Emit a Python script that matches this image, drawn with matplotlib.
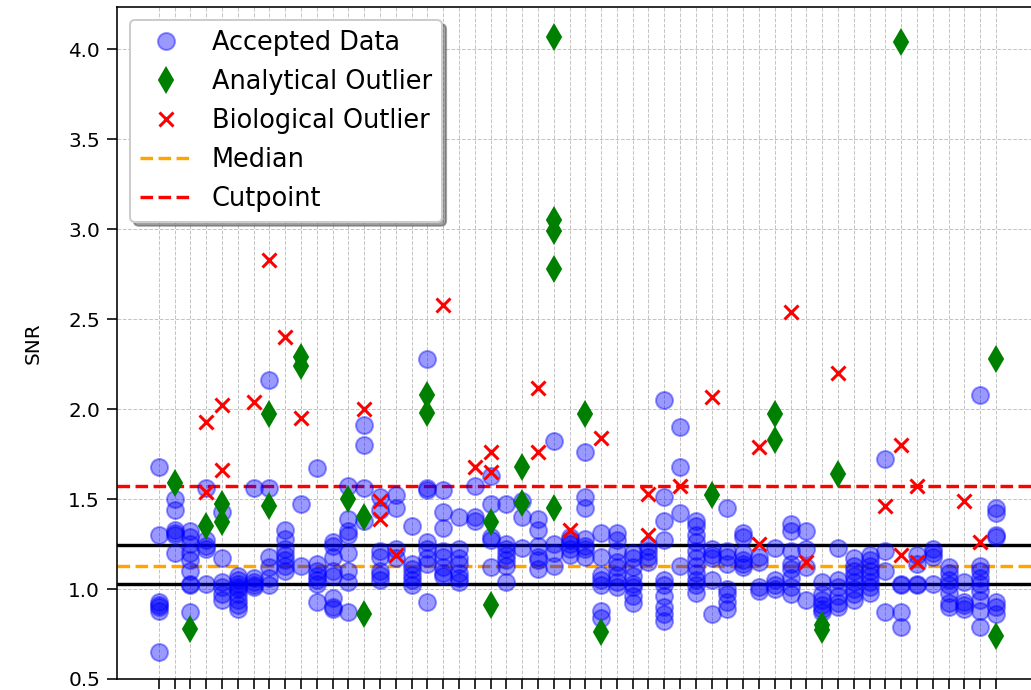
import numpy as np
import matplotlib
matplotlib.use('Agg')
import matplotlib.pyplot as plt
from matplotlib.lines import Line2D

# accepted SNR values, one list per sample (x position = index)
accepted = [
    [1.68, 1.30, 0.93, 0.91, 0.90, 0.88, 0.65],
    [1.50, 1.44, 1.33, 1.31, 1.30, 1.20],
    [1.32, 1.29, 1.25, 1.20, 1.16, 1.10, 1.03, 1.02, 0.87],
    [1.56, 1.27, 1.24, 1.22, 1.03],
    [1.43, 1.17, 1.04, 1.01, 0.97, 0.94],
    [1.07, 1.05, 1.03, 1.01, 1.00, 0.97, 0.94, 0.91, 0.89],
    [1.56, 1.06, 1.04, 1.02, 1.01],
    [2.16, 1.56, 1.18, 1.12, 1.06, 1.02],
    [1.33, 1.28, 1.22, 1.19, 1.16, 1.13, 1.10],
    [1.47, 1.13],
    [1.67, 1.14, 1.10, 1.07, 1.05, 1.03, 0.93],
    [1.26, 1.24, 1.18, 1.10, 1.07, 0.95, 0.90, 0.89],
    [1.57, 1.39, 1.32, 1.30, 1.20, 1.10, 1.04, 0.87],
    [1.91, 1.80, 1.56, 1.38],
    [1.51, 1.44, 1.21, 1.18, 1.10, 1.08, 1.05],
    [1.52, 1.45, 1.22, 1.17],
    [1.35, 1.14, 1.11, 1.08, 1.05, 1.02],
    [2.28, 1.56, 1.55, 1.26, 1.22, 1.17, 1.14, 0.93],
    [1.55, 1.43, 1.34, 1.21, 1.18, 1.12, 1.09, 1.07],
    [1.40, 1.22, 1.17, 1.14, 1.09, 1.06, 1.04],
    [1.57, 1.40, 1.38],
    [1.63, 1.47, 1.29, 1.27, 1.12],
    [1.47, 1.25, 1.22, 1.19, 1.16, 1.13, 1.04],
    [1.49, 1.40, 1.23],
    [1.39, 1.33, 1.24, 1.18, 1.16, 1.11],
    [1.82, 1.25, 1.20, 1.13],
    [1.29, 1.27, 1.25, 1.22, 1.19],
    [1.76, 1.51, 1.45, 1.28, 1.24, 1.22, 1.18],
    [1.31, 1.18, 1.08, 1.05, 1.02, 0.88, 0.84],
    [1.31, 1.27, 1.21, 1.15, 1.12, 1.08, 1.04, 1.01],
    [1.20, 1.17, 1.12, 1.07, 1.03, 1.01, 0.96, 0.92],
    [1.24, 1.21, 1.18, 1.15],
    [2.05, 1.51, 1.38, 1.27, 1.05, 1.02, 0.96, 0.90, 0.86, 0.82],
    [1.90, 1.68, 1.42, 1.13],
    [1.38, 1.35, 1.30, 1.26, 1.21, 1.17, 1.13, 1.09, 1.05, 1.02, 0.98],
    [1.22, 1.19, 1.17, 1.05, 0.86],
    [1.45, 1.21, 1.18, 1.14, 1.00, 0.97, 0.93, 0.89],
    [1.31, 1.29, 1.20, 1.16, 1.14, 1.12],
    [1.18, 1.15, 1.01, 0.99],
    [1.23, 1.05, 1.02, 1.00],
    [1.36, 1.32, 1.21, 1.14, 1.11, 1.06, 1.01, 0.97],
    [1.32, 1.22, 1.12, 0.94],
    [1.04, 0.97, 0.94, 0.91, 0.89, 0.87],
    [1.23, 1.05, 1.01, 0.96, 0.92, 0.90],
    [1.17, 1.13, 1.10, 1.07, 1.04, 1.00, 0.97, 0.94],
    [1.19, 1.16, 1.13, 1.10, 1.07, 1.04, 1.01, 0.98],
    [1.72, 1.21, 1.10, 0.87],
    [1.03, 1.02, 0.87, 0.79],
    [1.19, 1.14, 1.03, 1.02],
    [1.22, 1.20, 1.18, 1.03],
    [1.12, 1.09, 1.05, 1.02, 0.98, 0.92, 0.90],
    [1.04, 0.93, 0.91, 0.89],
    [2.08, 1.13, 1.10, 1.06, 1.03, 0.99, 0.94, 0.88, 0.79],
    [1.45, 1.42, 1.30, 1.29, 0.93, 0.90, 0.86],
]

# outliers: sample index -> SNR values
analytical = {
    1: [1.59], 2: [0.78], 3: [1.35], 4: [1.47, 1.37], 7: [1.97, 1.46],
    9: [2.29, 2.24], 12: [1.50], 13: [1.40, 0.86], 17: [2.08, 1.98],
    21: [1.37, 0.91], 23: [1.68, 1.48], 25: [4.07, 3.05, 2.99, 2.78, 1.45],
    27: [1.97], 28: [0.76], 35: [1.52], 39: [1.97, 1.83], 42: [0.80, 0.77],
    43: [1.64], 47: [4.04], 53: [2.28, 0.74],
}
biological = {
    3: [1.93, 1.54], 4: [2.02, 1.66], 6: [2.04], 7: [2.83], 8: [2.40],
    9: [1.95], 13: [2.00], 14: [1.49, 1.39], 15: [1.19], 18: [2.58],
    20: [1.68], 21: [1.76, 1.65], 24: [2.12, 1.76], 26: [1.33], 28: [1.84],
    31: [1.53, 1.30], 33: [1.57], 35: [2.07], 38: [1.79, 1.25], 40: [2.54],
    41: [1.15], 43: [2.20], 46: [1.46], 47: [1.80, 1.19], 48: [1.57, 1.15],
    51: [1.49], 52: [1.26],
}

median = 1.13
cutpoint = 1.575
band_low = 1.03
band_high = 1.242


def flatten(groups):
    xs, ys = [], []
    for i, vals in groups:
        xs += [i] * len(vals)
        ys += list(vals)
    return xs, ys


n = len(accepted)
ax_x, ax_y = flatten(enumerate(accepted))
an_x, an_y = flatten(analytical.items())
bi_x, bi_y = flatten(biological.items())

fig = plt.figure(figsize=(1031 / 144, 690 / 144), dpi=144)
ax = fig.add_axes([117 / 1031, 11 / 690, 920.8 / 1031, 671.7 / 690])

ax.axhline(band_high, color='black', lw=1.7)
ax.axhline(band_low, color='black', lw=1.7)
ax.axhline(median, color='orange', ls='--', lw=1.7)
ax.axhline(cutpoint, color='red', ls='--', lw=1.7)

ax.plot(ax_x, ax_y, 'o', color='blue', alpha=0.4, ms=8.5, ls='none')
ax.plot(an_x, an_y, 'd', color='green', ms=8.5, ls='none')
ax.plot(bi_x, bi_y, 'x', color='red', ms=7, mew=1.5, ls='none')

ax.set_xticks(range(n))
ax.set_xlim(-0.05 * (n - 1), (n - 1) * 1.05)
ax.set_ylim(0.5, 4.233)
ax.tick_params(axis='x', labelbottom=False, length=5)
ax.tick_params(axis='y', length=5)
ax.grid(True, ls='--', lw=0.5, color='#c4c4c4')
ax.set_axisbelow(True)
ax.set_ylabel('SNR', labelpad=13)

handles = [
    Line2D([], [], marker='o', color='blue', alpha=0.4, ms=8.5, ls='none'),
    Line2D([], [], marker='d', color='green', ms=8.5, ls='none'),
    Line2D([], [], marker='x', color='red', ms=7, mew=1.5, ls='none'),
    Line2D([], [], color='orange', ls='--', lw=1.7),
    Line2D([], [], color='red', ls='--', lw=1.7),
]
labels = ['Accepted Data', 'Analytical Outlier', 'Biological Outlier',
          'Median', 'Cutpoint']
ax.legend(handles, labels, loc='upper left', fontsize=12.8, shadow=True,
          framealpha=1)

fig.savefig('out.png', dpi=144)
